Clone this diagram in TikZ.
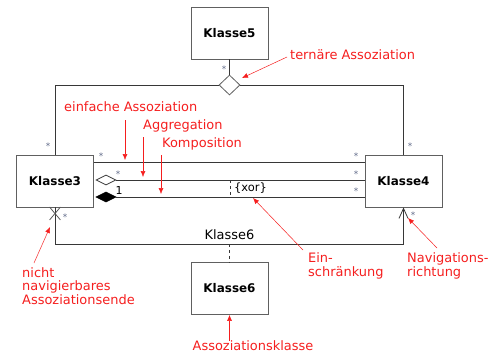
\documentclass[tikz,border=0pt]{standalone}
\usepackage{fontspec}
\setmainfont{DejaVu Sans}
\usepackage{xcolor}
\usetikzlibrary{positioning, shapes.geometric, shapes.misc, arrows.meta, calc}

\definecolor{notered}{RGB}{245,30,30}
\definecolor{multgray}{RGB}{95,105,135}
\definecolor{linegray}{RGB}{55,55,55}

\begin{document}
\begin{tikzpicture}[
					x=1bp, y=-1bp,
					% --- Styles ---
					classbox/.style={
						rectangle, draw=gray!75!black, fill=white, thick,
						minimum width=77bp, minimum height=52bp, align=center, font=\bfseries\fontsize{12}{14}\selectfont
					},
					assoc/.style={
						draw=linegray, thick
					},
					mult/.style={
						font=\fontsize{9}{10}\selectfont, text=multgray, inner sep=0pt
					},
					note/.style={
						font=\fontsize{13}{15}\selectfont, text=notered, align=left, anchor=west, inner sep=0pt
					},
					notearrow/.style={
						draw=notered, -{Latex[length=6bp,width=5bp]}, line width=0.5pt
					}
					]
					\useasboundingbox (0,0) rectangle (499,353);
					
					% --- 1. Classes ---
					\node [classbox] (k5) at (229.5,33) {Klasse5};
					\node [classbox] (k3) at (55,181) {Klasse3};
					\node [classbox] (k4) at (403.5,181) {Klasse4};
					\node [classbox] (k6) at (229.5,288.5) {Klasse6};
					
					% --- 2. Ternary association ---
					\node [diamond, draw=gray!75!black, fill=white, thick, inner sep=0pt,
					       minimum width=21bp, minimum height=20bp] (tern) at (229.5,85) {};
					\draw [assoc] (k5) -- (tern);
					\draw [assoc] (tern.west) -| (k3.north);
					\draw [assoc] (tern.east) -| (k4.north);
					\node [mult] at (224,69) {*};
					\node [mult] at (48,146) {*};
					\node [mult] at (410,146) {*};
					
					% --- 3. Associations between Klasse3 and Klasse4 ---
					\coordinate (y1) at (0,162);
					\coordinate (y2) at (0,180);
					\coordinate (y3) at (0,197);
					
					% simple
					\draw [assoc] (k3.east |- y1) -- (k4.west |- y1);
					\node [mult] at (101,156) {*};
					\node [mult] at (356,156) {*};
					
					% aggregation (open diamond)
					\node [diamond, draw=linegray, fill=white, thick, inner sep=0pt,
					       minimum width=20bp, minimum height=10bp] (agg) at (106,180) {};
					\draw [assoc] (agg.east) -- (k4.west |- y2);
					\node [mult] at (118,174) {*};
					\node [mult] at (356,174) {*};
					
					% composition (filled diamond)
					\node [diamond, draw=black, fill=black, thick, inner sep=0pt,
					       minimum width=20bp, minimum height=10bp] (komp) at (106,197) {};
					\draw [assoc] (komp.east) -- (k4.west |- y3);
					\node [font=\fontsize{11}{12}\selectfont, inner sep=0pt] at (119,190) {1};
					\node [mult] at (356,191) {*};
					
					% xor constraint
					\coordinate (xa) at (230,180);
					\coordinate (xb) at (230,197);
					\draw [assoc, dashed, thin] (xa) -- (xb);
					\node [font=\fontsize{11.5}{13}\selectfont, anchor=west, inner sep=0pt] (xor) at (234,188) {\{xor\}};
					
					% --- 4. Association with association class ---
					\coordinate (bl) at (55,244);
					\draw [assoc, -{Straight Barb[length=10bp,width=9bp]}] (k3.south) -- (bl) -| (k4.south);
					\node [cross out, draw=gray!70!black, thick, minimum width=10bp, minimum height=12bp, inner sep=0pt] (xend) at (55,213.5) {};
					\node [mult] at (65,217) {*};
					\node [mult] at (413,215) {*};
					\node [font=\fontsize{13}{15}\selectfont, inner sep=0pt] (k6lbl) at (229.5,235) {Klasse6};
					\draw [assoc, dashed, thin] (k6.north |- bl) -- (k6.north);
					
					% --- 5. Notes ---
					\node [note] (n_tern) at (290,55) {ternäre Assoziation};
					\node [note] (n_einf) at (64,107) {einfache Assoziation};
					\node [note] (n_agg) at (143,126) {Aggregation};
					\node [note] (n_komp) at (162,144) {Komposition};
					\node [note, anchor=north west] (n_ein) at (308,252) {Ein-\\schränkung};
					\node [note, anchor=north west] (n_nav) at (407,252) {Navigations-\\richtung};
					\node [note, anchor=north west, font=\fontsize{13}{14}\selectfont] (n_nicht) at (22,267) {nicht\\navigierbares\\Assoziationsende};
					\node [note, anchor=center] (n_akl) at (253,346) {Assoziationsklasse};
					
					% Arrow tips
					\coordinate (t_tern) at (242,78);
					\coordinate (t_einf) at (125,160);
					\coordinate (t_agg) at (143,177);
					\coordinate (t_komp) at (161,194);
					\coordinate (t_ein) at (253,198);
					\coordinate (t_nav) at (408,218);
					\coordinate (t_nicht) at (50,227);
					
					\draw [notearrow] ($(n_tern.west)+(-3,2)$) -- (t_tern);
					\draw [notearrow] (t_einf |- 0,120) -- (t_einf);
					\draw [notearrow] (t_agg |- 0,137) -- (t_agg);
					\draw [notearrow] (t_komp |- 0,155) -- (t_komp);
					\draw [notearrow] ($(n_ein.north west)+(-5,-2)$) -- (t_ein);
					\draw [notearrow] ($(n_nav.north west)+(30,-4)$) -- (t_nav);
					\draw [notearrow] ($(n_nicht.north west)+(12,-4)$) -- (t_nicht);
					\draw [notearrow] (n_akl.north -| k6.south) -- (k6.south);
					
\end{tikzpicture}
\end{document}
